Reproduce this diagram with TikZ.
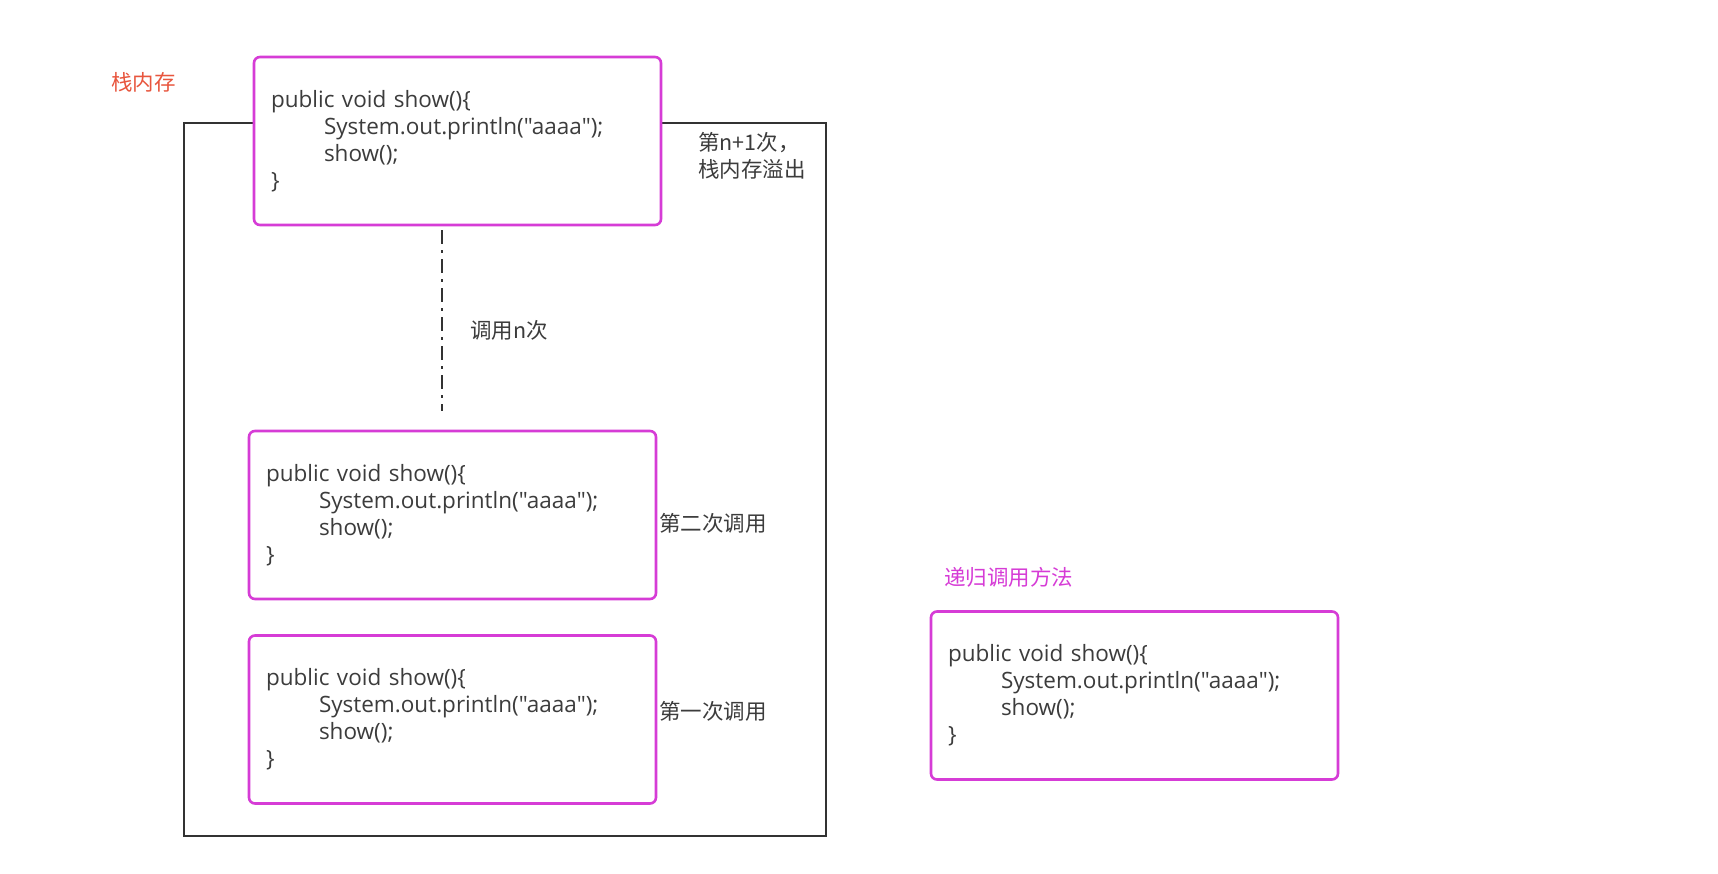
\documentclass[tikz,border=0pt]{standalone}
\usepackage{fontspec}
\newfontfamily\codefont{Open Sans}
\newfontfamily\cjk{Noto Sans CJK SC}
\definecolor{mag}{RGB}{214,60,214}
\definecolor{lbl}{RGB}{232,86,62}
\definecolor{txt}{RGB}{60,60,60}
\definecolor{frame}{RGB}{50,50,50}
\tikzset{
  codebox/.style={draw=mag, line width=2.6pt, rounded corners=6pt, fill=white,
    minimum width=407pt, minimum height=168pt, text width=373pt, inner xsep=17pt,
    align=left, text=txt, font=\codefont\fontsize{22.5}{27}\selectfont},
  note/.style={text=txt, font=\cjk\fontsize{21.5}{27.5}\selectfont, anchor=west, inner sep=0pt, align=left},
}
\newcommand{\codetext}{public void show()\{\\\hspace*{53pt}System.out.println("aaaa");\\\hspace*{53pt}show();\\\}}
\begin{document}
\begin{tikzpicture}[x=1pt,y=-1pt]
\useasboundingbox (0,0) rectangle (1718,873);
\fill[white] (0,0) rectangle (1718,873);
\draw[frame, line width=2.6pt] (184,123) rectangle (826,836);
\node[codebox] (top) at (457.5,141) {\codetext};
\node[codebox] (second) at (452.5,515) {\codetext};
\node[codebox] (first) at (452.5,719.5) {\codetext};
\node[codebox] (method) at (1134.5,695.5) {\codetext};
\coordinate (dtop) at (442,230);
\coordinate (dbot) at (442,411);
\draw[frame, line width=2.6pt, dash pattern=on 14pt off 6pt on 3pt off 6pt] (dtop) -- (dbot);
\node[note] (calls) at (470,330) {调用n次};
\node[note, text=lbl] (stack) at (111,82) {栈内存};
\node[note] (overflow) at (698,156) {第n+1次，\\栈内存溢出};
\node[note] (second lbl) at (659,523) {第二次调用};
\node[note] (first lbl) at (659,711) {第一次调用};
\node[note, text=mag] (method lbl) at (944,577) {递归调用方法};
\end{tikzpicture}
\end{document}
